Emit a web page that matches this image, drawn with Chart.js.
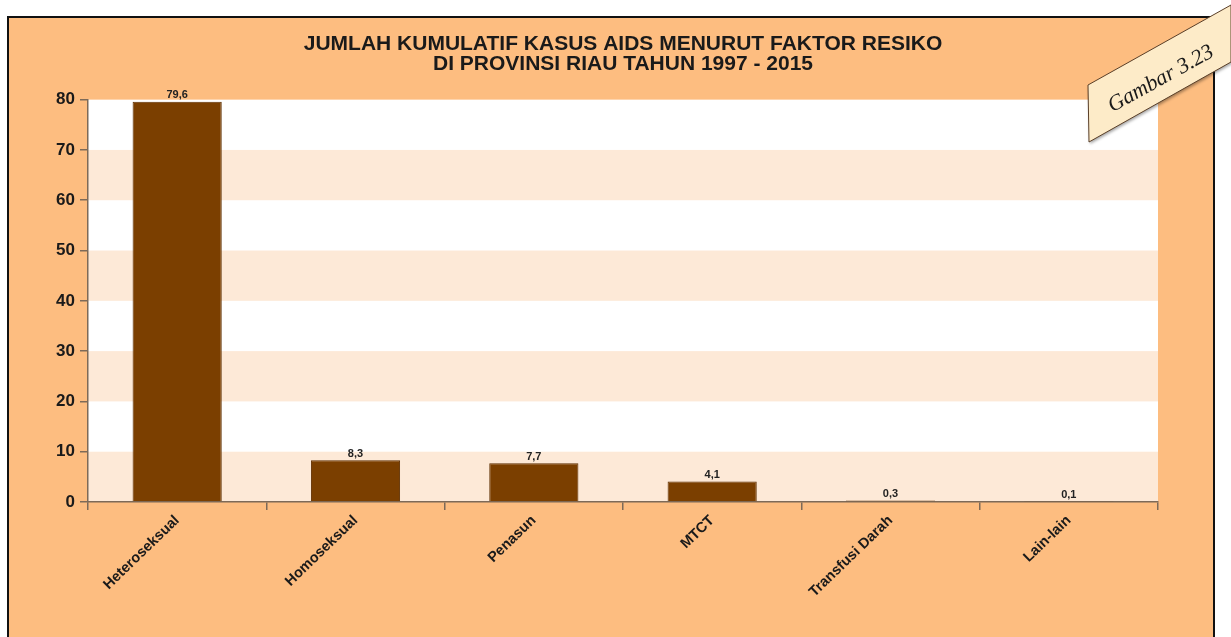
<!DOCTYPE html>
<html>
<head>
<meta charset="utf-8">
<script src="https://cdn.jsdelivr.net/npm/chart.js@4"></script>
<style>
  html, body { margin: 0; padding: 0; background: #ffffff; }
  canvas { display: block; }
</style>
</head>
<body>
<canvas id="chartAids" width="1231" height="637"></canvas>
<script>
const categories = ['Heteroseksual', 'Homoseksual', 'Penasun', 'MTCT', 'Transfusi Darah', 'Lain-lain'];
const percentValues = [79.6, 8.3, 7.7, 4.1, 0.3, 0.1];
const yTickValues = [0, 10, 20, 30, 40, 50, 60, 70, 80];
const titleLines = ['JUMLAH KUMULATIF KASUS AIDS MENURUT FAKTOR RESIKO', 'DI PROVINSI RIAU TAHUN 1997 - 2015'];
const tagText = 'Gambar 3.23';

const FONT = 'Arial, "Liberation Sans", sans-serif';
const ORANGE = '#fdbd80';
const PEACH = '#fde9d7';
const BAR = '#7b3f00';
const AXIS = '#7d6a58';

// frame, white/peach bands behind the plot
const backgroundPlugin = {
    id: 'backgroundPlugin',
    beforeDraw(chart) {
        const c = chart.ctx;
        const area = chart.chartArea;
        const y = chart.scales.y;
        c.save();
        c.fillStyle = '#ffffff';
        c.fillRect(0, 0, chart.width, chart.height);
        c.fillStyle = ORANGE;
        c.fillRect(8, 17, 1206, 640);
        c.strokeStyle = '#111111';
        c.lineWidth = 2;
        c.strokeRect(8, 17, 1206, 640);
        c.fillStyle = '#ffffff';
        c.fillRect(area.left, area.top, area.right - area.left, area.bottom - area.top);
        for (let i = 0; i < yTickValues.length - 1; i++) {
            if (i % 2 === 0) {
                const top = y.getPixelForValue(yTickValues[i + 1]);
                const bottom = y.getPixelForValue(yTickValues[i]);
                c.fillStyle = PEACH;
                c.fillRect(area.left, top, area.right - area.left, bottom - top);
            }
        }
        c.restore();
    }
};

// value labels above bars and the "Gambar" tag
const overlayPlugin = {
    id: 'overlayPlugin',
    afterDraw(chart) {
        const c = chart.ctx;
        const meta = chart.getDatasetMeta(0);
        c.save();
        c.font = 'bold 11px ' + FONT;
        c.fillStyle = '#222222';
        c.textAlign = 'center';
        c.textBaseline = 'bottom';
        meta.data.forEach((bar, i) => {
            c.fillText(percentValues[i].toFixed(1).replace('.', ','), bar.x, bar.y - 1);
        });

        // tag
        c.beginPath();
        c.moveTo(1088, 85);
        c.lineTo(1231, 5);
        c.lineTo(1231, 62);
        c.lineTo(1089, 142);
        c.closePath();
        c.shadowColor = 'rgba(0,0,0,0.35)';
        c.shadowOffsetX = 1;
        c.shadowOffsetY = 2;
        c.shadowBlur = 3;
        c.fillStyle = '#fdebc8';
        c.fill();
        c.shadowColor = 'transparent';
        c.strokeStyle = '#5a3f28';
        c.lineWidth = 1;
        c.stroke();
        c.translate(1161, 79);
        c.rotate(-29 * Math.PI / 180);
        c.font = 'italic 22px "Liberation Serif", "DejaVu Serif", serif';
        c.fillStyle = '#1a1a1a';
        c.textAlign = 'center';
        c.textBaseline = 'middle';
        c.fillText(tagText, 0, 0);
        c.restore();
    }
};

const ctx = document.getElementById('chartAids').getContext('2d');
new Chart(ctx, {
    type: 'bar',
    data: {
        labels: categories,
        datasets: [
            {
                label: 'Faktor resiko (%)',
                data: percentValues,
                backgroundColor: BAR,
                borderColor: '#5e2f00',
                borderWidth: 1,
                barPercentage: 0.5,
                categoryPercentage: 1.0
            }
        ]
    },
    options: {
        responsive: false,
        animation: false,
        layout: {
            padding: { top: 35, left: 0, right: 73, bottom: 0 }
        },
        plugins: {
            legend: { display: false },
            tooltip: { enabled: false },
            title: {
                display: true,
                fullSize: false,
                text: titleLines,
                color: '#1a1a1a',
                font: { family: FONT, size: 21, weight: 'bold', lineHeight: 0.92 },
                padding: { top: 0, bottom: 26 }
            }
        },
        scales: {
            x: {
                grid: {
                    offset: true,
                    drawOnChartArea: false,
                    drawTicks: true,
                    tickLength: 8,
                    color: AXIS,
                    lineWidth: 1.5
                },
                border: { color: AXIS, width: 1.5 },
                ticks: {
                    color: '#1a1a1a',
                    font: { family: FONT, size: 14.5, weight: 'bold' },
                    minRotation: 44,
                    maxRotation: 44,
                    padding: 2
                },
                afterFit(scale) {
                    scale.height = 135;
                }
            },
            y: {
                min: 0,
                max: 80,
                grid: {
                    drawOnChartArea: false,
                    drawTicks: true,
                    tickLength: 8,
                    color: AXIS,
                    lineWidth: 1.5
                },
                border: { color: AXIS, width: 1.5 },
                afterBuildTicks(scale) {
                    scale.ticks = yTickValues.map(v => ({ value: v }));
                },
                ticks: {
                    color: '#1a1a1a',
                    font: { family: FONT, size: 17, weight: 'bold' },
                    padding: 5
                },
                afterFit(scale) {
                    scale.width = 88;
                }
            }
        }
    },
    plugins: [backgroundPlugin, overlayPlugin]
});
</script>
</body>
</html>
